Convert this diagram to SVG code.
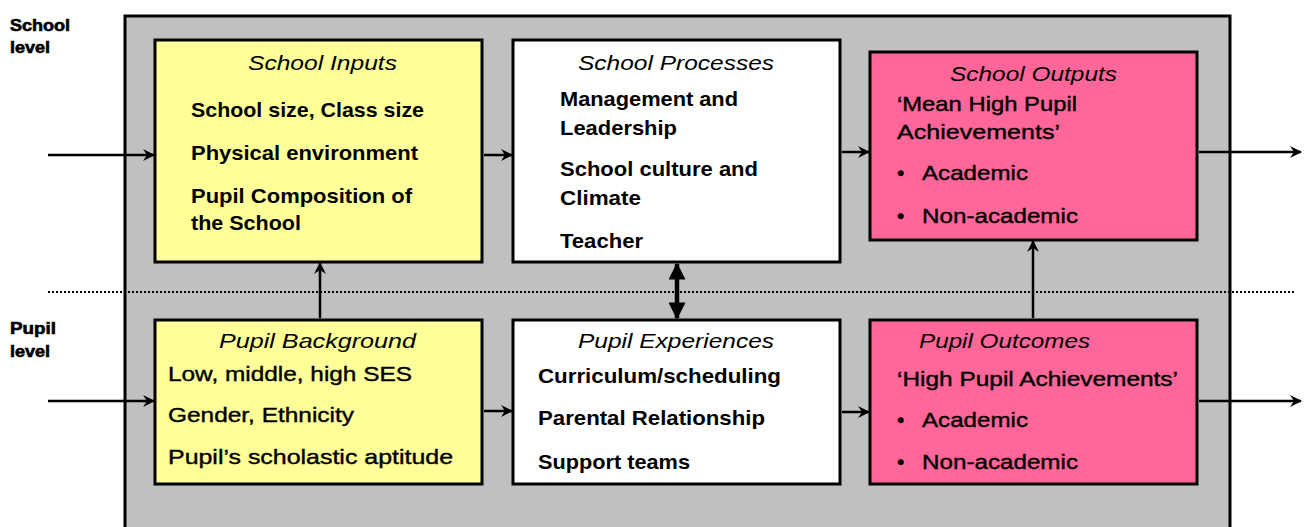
<svg xmlns="http://www.w3.org/2000/svg" width="1309" height="527" viewBox="0 0 1309 527">
<style>
.box{stroke:#000;stroke-width:3}
.yel{fill:#ffff99}
.wht{fill:#ffffff}
.pnk{fill:#ff6699}
text{font-family:"Liberation Sans",Arial,sans-serif;fill:#000}
.ttl{font-style:italic;font-size:21px}
.tb{font-size:21px;font-weight:bold}
.ta{font-size:21px;stroke:#000;stroke-width:0.4}
.lvl{font-size:16px;font-weight:bold;stroke:#000;stroke-width:0.6}
.ln{stroke:#000;stroke-width:2.5;fill:none}
</style>
<defs>
<marker id="ah" viewBox="0 0 12 12" refX="11" refY="6" markerWidth="12" markerHeight="12" markerUnits="userSpaceOnUse" orient="auto">
<path d="M0,0 L12,6 L0,12 L4,6 z" fill="#000"/>
</marker>
<marker id="bh" viewBox="0 0 12 12" refX="11" refY="6" markerWidth="17" markerHeight="17" markerUnits="userSpaceOnUse" orient="auto-start-reverse">
<path d="M0,0 L12,6 L0,12 z" fill="#000"/>
</marker>
</defs>
<rect x="125" y="16" width="1105" height="525" fill="#c0c0c0" stroke="#000" stroke-width="3"/>
<g id="labels">
<text class="lvl" x="10" y="31" textLength="60" lengthAdjust="spacingAndGlyphs">School</text>
<text class="lvl" x="10" y="53" textLength="40" lengthAdjust="spacingAndGlyphs">level</text>
<text class="lvl" x="10" y="334" textLength="46" lengthAdjust="spacingAndGlyphs">Pupil</text>
<text class="lvl" x="10" y="357" textLength="40" lengthAdjust="spacingAndGlyphs">level</text>
</g>
<line x1="48" y1="292" x2="1296" y2="292" stroke="#000" stroke-width="2" stroke-dasharray="2,2"/>
<g id="school-inputs">
<rect class="box yel" x="155" y="40" width="327" height="222"/>
<text class="ttl" x="248" y="70" textLength="149" lengthAdjust="spacingAndGlyphs">School Inputs</text>
<text class="tb" x="191" y="117" textLength="233" lengthAdjust="spacingAndGlyphs">School size,  Class size</text>
<text class="tb" x="191" y="160" textLength="227" lengthAdjust="spacingAndGlyphs">Physical environment</text>
<text class="tb" x="191" y="203" textLength="221" lengthAdjust="spacingAndGlyphs">Pupil Composition of</text>
<text class="tb" x="191" y="230" textLength="110" lengthAdjust="spacingAndGlyphs">the School</text>
</g>
<g id="school-processes">
<rect class="box wht" x="513" y="40" width="327" height="222"/>
<text class="ttl" x="578" y="70" textLength="196" lengthAdjust="spacingAndGlyphs">School Processes</text>
<text class="tb" x="560" y="106" textLength="178" lengthAdjust="spacingAndGlyphs">Management and</text>
<text class="tb" x="560" y="135" textLength="117" lengthAdjust="spacingAndGlyphs">Leadership</text>
<text class="tb" x="560" y="176" textLength="198" lengthAdjust="spacingAndGlyphs">School culture  and</text>
<text class="tb" x="560" y="205" textLength="81" lengthAdjust="spacingAndGlyphs">Climate</text>
<text class="tb" x="560" y="248" textLength="83" lengthAdjust="spacingAndGlyphs">Teacher</text>
</g>
<g id="school-outputs">
<rect class="box pnk" x="870" y="52" width="327" height="188"/>
<text class="ttl" x="950" y="81" textLength="167" lengthAdjust="spacingAndGlyphs">School Outputs</text>
<text class="ta" x="897" y="111" textLength="180" lengthAdjust="spacingAndGlyphs">‘Mean High Pupil</text>
<text class="ta" x="897" y="139" textLength="163" lengthAdjust="spacingAndGlyphs">Achievements’</text>
<text class="ta" x="897" y="180">•</text>
<text class="ta" x="922" y="180" textLength="106" lengthAdjust="spacingAndGlyphs">Academic</text>
<text class="ta" x="897" y="223">•</text>
<text class="ta" x="922" y="223" textLength="156" lengthAdjust="spacingAndGlyphs">Non-academic</text>
</g>
<g id="pupil-background">
<rect class="box yel" x="155" y="320" width="327" height="164"/>
<text class="ttl" x="219" y="348" textLength="197" lengthAdjust="spacingAndGlyphs">Pupil Background</text>
<text class="ta" x="168" y="381" textLength="244" lengthAdjust="spacingAndGlyphs">Low, middle,  high SES</text>
<text class="ta" x="168" y="422" textLength="186" lengthAdjust="spacingAndGlyphs">Gender, Ethnicity</text>
<text class="ta" x="168" y="464" textLength="285" lengthAdjust="spacingAndGlyphs">Pupil’s scholastic aptitude</text>
</g>
<g id="pupil-experiences">
<rect class="box wht" x="513" y="320" width="327" height="164"/>
<text class="ttl" x="578" y="348" textLength="196" lengthAdjust="spacingAndGlyphs">Pupil Experiences</text>
<text class="tb" x="538" y="383" textLength="243" lengthAdjust="spacingAndGlyphs">Curriculum/scheduling</text>
<text class="tb" x="538" y="425" textLength="227" lengthAdjust="spacingAndGlyphs">Parental Relationship</text>
<text class="tb" x="538" y="469" textLength="152" lengthAdjust="spacingAndGlyphs">Support teams</text>
</g>
<g id="pupil-outcomes">
<rect class="box pnk" x="870" y="320" width="327" height="164"/>
<text class="ttl" x="919" y="348" textLength="171" lengthAdjust="spacingAndGlyphs">Pupil Outcomes</text>
<text class="ta" x="897" y="386" textLength="281" lengthAdjust="spacingAndGlyphs">‘High Pupil Achievements’</text>
<text class="ta" x="897" y="427">•</text>
<text class="ta" x="922" y="427" textLength="106" lengthAdjust="spacingAndGlyphs">Academic</text>
<text class="ta" x="897" y="469">•</text>
<text class="ta" x="922" y="469" textLength="156" lengthAdjust="spacingAndGlyphs">Non-academic</text>
</g>
<g id="connectors">
<line class="ln" x1="48" y1="155" x2="154" y2="155" marker-end="url(#ah)"/>
<line class="ln" x1="484" y1="155" x2="512" y2="155" marker-end="url(#ah)"/>
<line class="ln" x1="842" y1="152" x2="869" y2="152" marker-end="url(#ah)"/>
<line class="ln" x1="1199" y1="152" x2="1301" y2="152" marker-end="url(#ah)"/>
<line class="ln" x1="48" y1="401" x2="154" y2="401" marker-end="url(#ah)"/>
<line class="ln" x1="484" y1="411" x2="512" y2="411" marker-end="url(#ah)"/>
<line class="ln" x1="842" y1="412" x2="869" y2="412" marker-end="url(#ah)"/>
<line class="ln" x1="1199" y1="401" x2="1301" y2="401" marker-end="url(#ah)"/>
<line class="ln" x1="320" y1="318" x2="320" y2="263" marker-end="url(#ah)"/>
<line class="ln" x1="1033" y1="318" x2="1033" y2="241" marker-end="url(#ah)"/>
<line x1="677" y1="264" x2="677" y2="318" stroke="#000" stroke-width="4.5" marker-start="url(#bh)" marker-end="url(#bh)"/>
</g>
</svg>
